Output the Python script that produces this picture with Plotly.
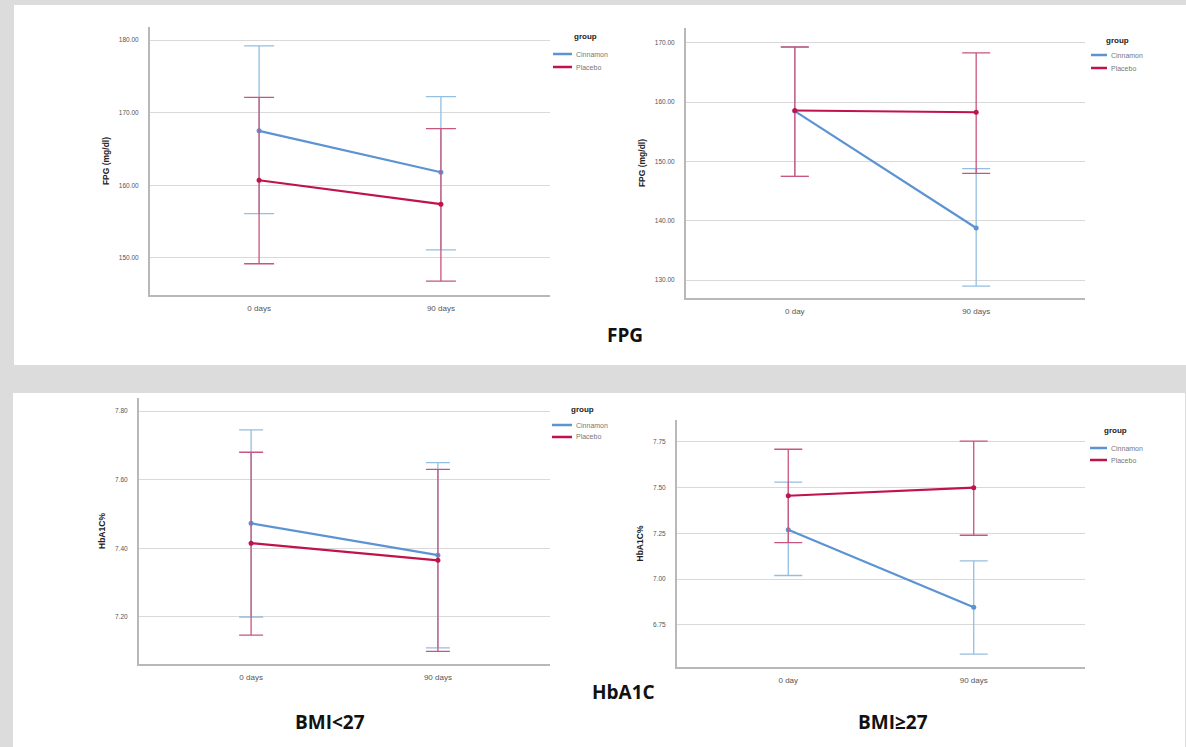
import plotly.graph_objects as go

W, H = 1186, 747

# ---------------- data ----------------
groups = ["Cinnamon", "Placebo"]
x_days_a = ["0 days", "90 days"]
x_days_b = ["0 day", "90 days"]

# FPG, BMI<27
fpg1_cin_mean = [167.5, 161.8]
fpg1_cin_lo = [156.1, 151.1]
fpg1_cin_hi = [179.2, 172.2]
fpg1_pla_mean = [160.7, 157.4]
fpg1_pla_lo = [149.2, 146.8]
fpg1_pla_hi = [172.1, 167.8]

# FPG, BMI>=27
fpg2_cin_mean = [158.5, 138.8]
fpg2_cin_lo = [147.5, 129.0]
fpg2_cin_hi = [169.3, 148.8]
fpg2_pla_mean = [158.6, 158.3]
fpg2_pla_lo = [147.5, 148.0]
fpg2_pla_hi = [169.3, 168.3]

# HbA1C, BMI<27
hb1_cin_mean = [7.473, 7.38]
hb1_cin_lo = [7.20, 7.11]
hb1_cin_hi = [7.745, 7.65]
hb1_pla_mean = [7.415, 7.365]
hb1_pla_lo = [7.147, 7.10]
hb1_pla_hi = [7.68, 7.63]

# HbA1C, BMI>=27
hb2_cin_mean = [7.27, 6.847]
hb2_cin_lo = [7.02, 6.59]
hb2_cin_hi = [7.53, 7.10]
hb2_pla_mean = [7.456, 7.50]
hb2_pla_lo = [7.20, 7.24]
hb2_pla_hi = [7.71, 7.755]

fpg1_ticks = [150, 160, 170, 180]
fpg2_ticks = [130, 140, 150, 160, 170]
hb1_ticks = [7.2, 7.4, 7.6, 7.8]
hb2_ticks = [6.75, 7.0, 7.25, 7.5, 7.75]

# ---------------- style ----------------
CIN = "#5b93d3"
PLA = "#c0134a"
CIN_ERR = "#94bfe0"
PLA_ERR = "#c8557f"
BG = "#dcdcdc"
AXIS = "#b8b8b8"
GRID = "#d9d9d9"


def px_x(v):
    return v / W


def px_y(v):
    return 1 - v / H


panels = [
    dict(x=x_days_a, cm=fpg1_cin_mean, cl=fpg1_cin_lo, ch=fpg1_cin_hi,
         pm=fpg1_pla_mean, pl=fpg1_pla_lo, ph=fpg1_pla_hi,
         xd=(150, 550), yd=(27, 295), yr=(144.9, 181.8), ticks=fpg1_ticks,
         title="FPG (mg/dl)", cap=15, leg=(585, 37, 553, 572, 54, 67)),
    dict(x=x_days_b, cm=fpg2_cin_mean, cl=fpg2_cin_lo, ch=fpg2_cin_hi,
         pm=fpg2_pla_mean, pl=fpg2_pla_lo, ph=fpg2_pla_hi,
         xd=(686, 1085), yd=(28, 298), yr=(127.0, 172.5), ticks=fpg2_ticks,
         title="FPG (mg/dl)", cap=14, leg=(1117, 40, 1091, 1107, 55, 68)),
    dict(x=x_days_a, cm=hb1_cin_mean, cl=hb1_cin_lo, ch=hb1_cin_hi,
         pm=hb1_pla_mean, pl=hb1_pla_lo, ph=hb1_pla_hi,
         xd=(139, 550), yd=(398, 664), yr=(7.063, 7.838), ticks=hb1_ticks,
         title="HbA1C%", cap=12, leg=(582, 409, 552, 572, 425, 437)),
    dict(x=x_days_b, cm=hb2_cin_mean, cl=hb2_cin_lo, ch=hb2_cin_hi,
         pm=hb2_pla_mean, pl=hb2_pla_lo, ph=hb2_pla_hi,
         xd=(677, 1085), yd=(420, 667), yr=(6.52, 7.87), ticks=hb2_ticks,
         title="HbA1C%", cap=14, leg=(1115, 431, 1090, 1107, 448, 460)),
]

fig = go.Figure()
layout = dict(
    width=W, height=H, margin=dict(l=0, r=0, t=0, b=0),
    paper_bgcolor=BG, plot_bgcolor="white",
    font=dict(family="Liberation Sans, Arial, sans-serif", color="#444"),
    showlegend=False,
)

shapes = [
    dict(type="rect", xref="paper", yref="paper", layer="below",
         x0=px_x(14), x1=1.0, y0=px_y(365), y1=px_y(5),
         fillcolor="white", line=dict(width=0)),
    dict(type="rect", xref="paper", yref="paper", layer="below",
         x0=px_x(13), x1=px_x(1185), y0=0.0, y1=px_y(393),
         fillcolor="white", line=dict(width=0)),
]
annotations = []

for i, p in enumerate(panels):
    n = "" if i == 0 else str(i + 1)
    xa, ya = "x" + n, "y" + n
    for name, m, lo, hi, col, ecol in [
        ("Cinnamon", p["cm"], p["cl"], p["ch"], CIN, CIN_ERR),
        ("Placebo", p["pm"], p["pl"], p["ph"], PLA, PLA_ERR),
    ]:
        fig.add_trace(go.Scatter(
            x=p["x"], y=m, name=name, mode="lines+markers",
            xaxis=xa, yaxis=ya,
            line=dict(color=col, width=2.2),
            marker=dict(color=col, size=5),
            error_y=dict(type="data", symmetric=False,
                         array=[h - v for h, v in zip(hi, m)],
                         arrayminus=[v - l for v, l in zip(m, lo)],
                         color=ecol, thickness=1.3, width=p["cap"]),
        ))
    layout["xaxis" + n] = dict(
        domain=[px_x(p["xd"][0]), px_x(p["xd"][1])], anchor=ya,
        type="category", range=[-0.6, 1.6],
        showline=True, linecolor=AXIS, linewidth=2, showgrid=False,
        ticks="", tickfont=dict(size=8, color="#555"), ticklabelstandoff=4,
    )
    layout["yaxis" + n] = dict(
        domain=[px_y(p["yd"][1]), px_y(p["yd"][0])], anchor=xa,
        range=list(p["yr"]), tickvals=p["ticks"], tickformat=".2f",
        showline=True, linecolor=AXIS, linewidth=2,
        showgrid=True, gridcolor=GRID, gridwidth=1, zeroline=False,
        ticks="", tickfont=dict(size=6.5, color="#555"), ticklabelstandoff=8,
        title=dict(text="<b>" + p["title"] + "</b>",
                   font=dict(size=8.5, color="#222"), standoff=8),
    )
    # legend ("group") drawn as shapes + text
    gx, gy, lx0, lx1, y1, y2 = p["leg"]
    annotations.append(dict(
        text="<b>group</b>", x=px_x(gx), y=px_y(gy), xref="paper", yref="paper",
        showarrow=False, xanchor="center", yanchor="middle",
        font=dict(size=8, color="#222")))
    for name, col, yy in [(groups[0], CIN, y1), (groups[1], PLA, y2)]:
        shapes.append(dict(type="line", xref="paper", yref="paper",
                           x0=px_x(lx0), x1=px_x(lx1), y0=px_y(yy), y1=px_y(yy),
                           line=dict(color=col, width=2.5)))
        annotations.append(dict(
            text=name, x=px_x(lx1 + 2), y=px_y(yy), xref="paper", yref="paper",
            showarrow=False, xanchor="left", yanchor="middle",
            font=dict(size=7, color="#777")))

bold = dict(family="Open Sans, Liberation Sans, sans-serif", size=19, color="#111")
for txt, x, y in [("FPG", 625, 335), ("HbA1C", 623, 692),
                  ("BMI<27", 330, 722), ("BMI≥27", 893, 722)]:
    annotations.append(dict(
        text="<b>" + txt + "</b>", x=px_x(x), y=px_y(y), xref="paper", yref="paper",
        showarrow=False, font=bold, xanchor="center", yanchor="middle"))

layout["shapes"] = shapes
layout["annotations"] = annotations

fig.update_layout(**layout)
fig.write_html(
    "out.html",
    config={"displayModeBar": False},
    post_script="document.body.style.margin='0';document.body.style.padding='0';"
                "document.body.style.background='" + BG + "';",
)
